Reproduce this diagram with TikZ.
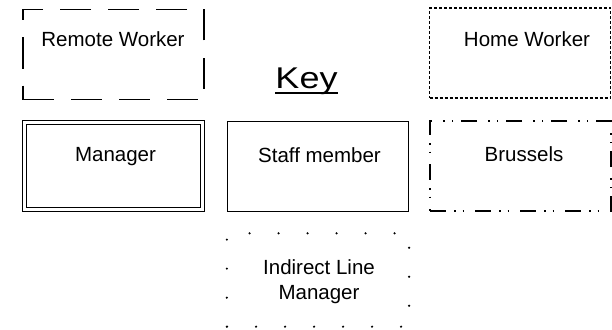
\documentclass[tikz,border=0pt]{standalone}
\usepackage{fontspec}
\setmainfont{Liberation Sans}
\begin{document}
\begin{tikzpicture}[x=1pt,y=-1pt,
  box/.style={draw=black, line width=1.3pt, inner sep=0pt, minimum width=181pt, minimum height=90pt},
  longdash/.style={dash pattern=on 31pt off 17pt},
  finedots/.style={dash pattern=on 3pt off 2pt},
  dashdotdot/.style={dash pattern=on 16pt off 8pt on 1.5pt off 7pt on 1.5pt off 11pt},
  sparsedots/.style={line width=2.4pt, line cap=round, dash pattern=on 0pt off 29pt},
  dbl/.style={double=white, double distance=2.2pt, line width=1pt},
  lbl/.style={font=\fontsize{20.5}{25}\selectfont, inner sep=0pt, anchor=base, align=center},
  keylbl/.style={font=\fontsize{30}{34}\selectfont, inner sep=0pt, anchor=base}
]
\useasboundingbox (0,0) rectangle (612,329);
% boxes
\node[box, longdash] (remote) at (113.5,54.5) {};
\node[box, finedots] (home) at (520,53) {};
\node[box, draw=none] (manager) at (113.5,166) {};
\draw[dbl] ([xshift=2.1pt,yshift=-2.1pt]manager.north west) rectangle ([xshift=-2.1pt,yshift=2.1pt]manager.south east);
\node[box] (staff) at (318,166.5) {};
\node[box, dashdotdot] (brussels) at (520.5,166) {};
\node[box, draw=none, minimum height=92pt] (indirect) at (318,280) {};
\draw[sparsedots] (indirect.south west) -- (indirect.north west) -- (indirect.north east) -- (indirect.south east) -- cycle;
% labels
\node[lbl] (tremote) at (113,46.5) {Remote Worker};
\node[lbl] (thome) at (527,47) {Home Worker};
\node[lbl] (tmanager) at (115.5,161) {Manager};
\node[lbl] (tstaff) at (319.5,162) {Staff member};
\node[lbl] (tbrussels) at (524,161) {Brussels};
\node[lbl] (tind1) at (319,274) {Indirect Line};
\node[lbl] (tind2) at (319,299.5) {Manager};
\node[keylbl] (key) at (306.5,88) {\scalebox{1.2}[1]{Key}};
\draw[line width=1.8pt] ([yshift=-5pt]key.base west) -- ([yshift=-5pt]key.base east);
\end{tikzpicture}
\end{document}
